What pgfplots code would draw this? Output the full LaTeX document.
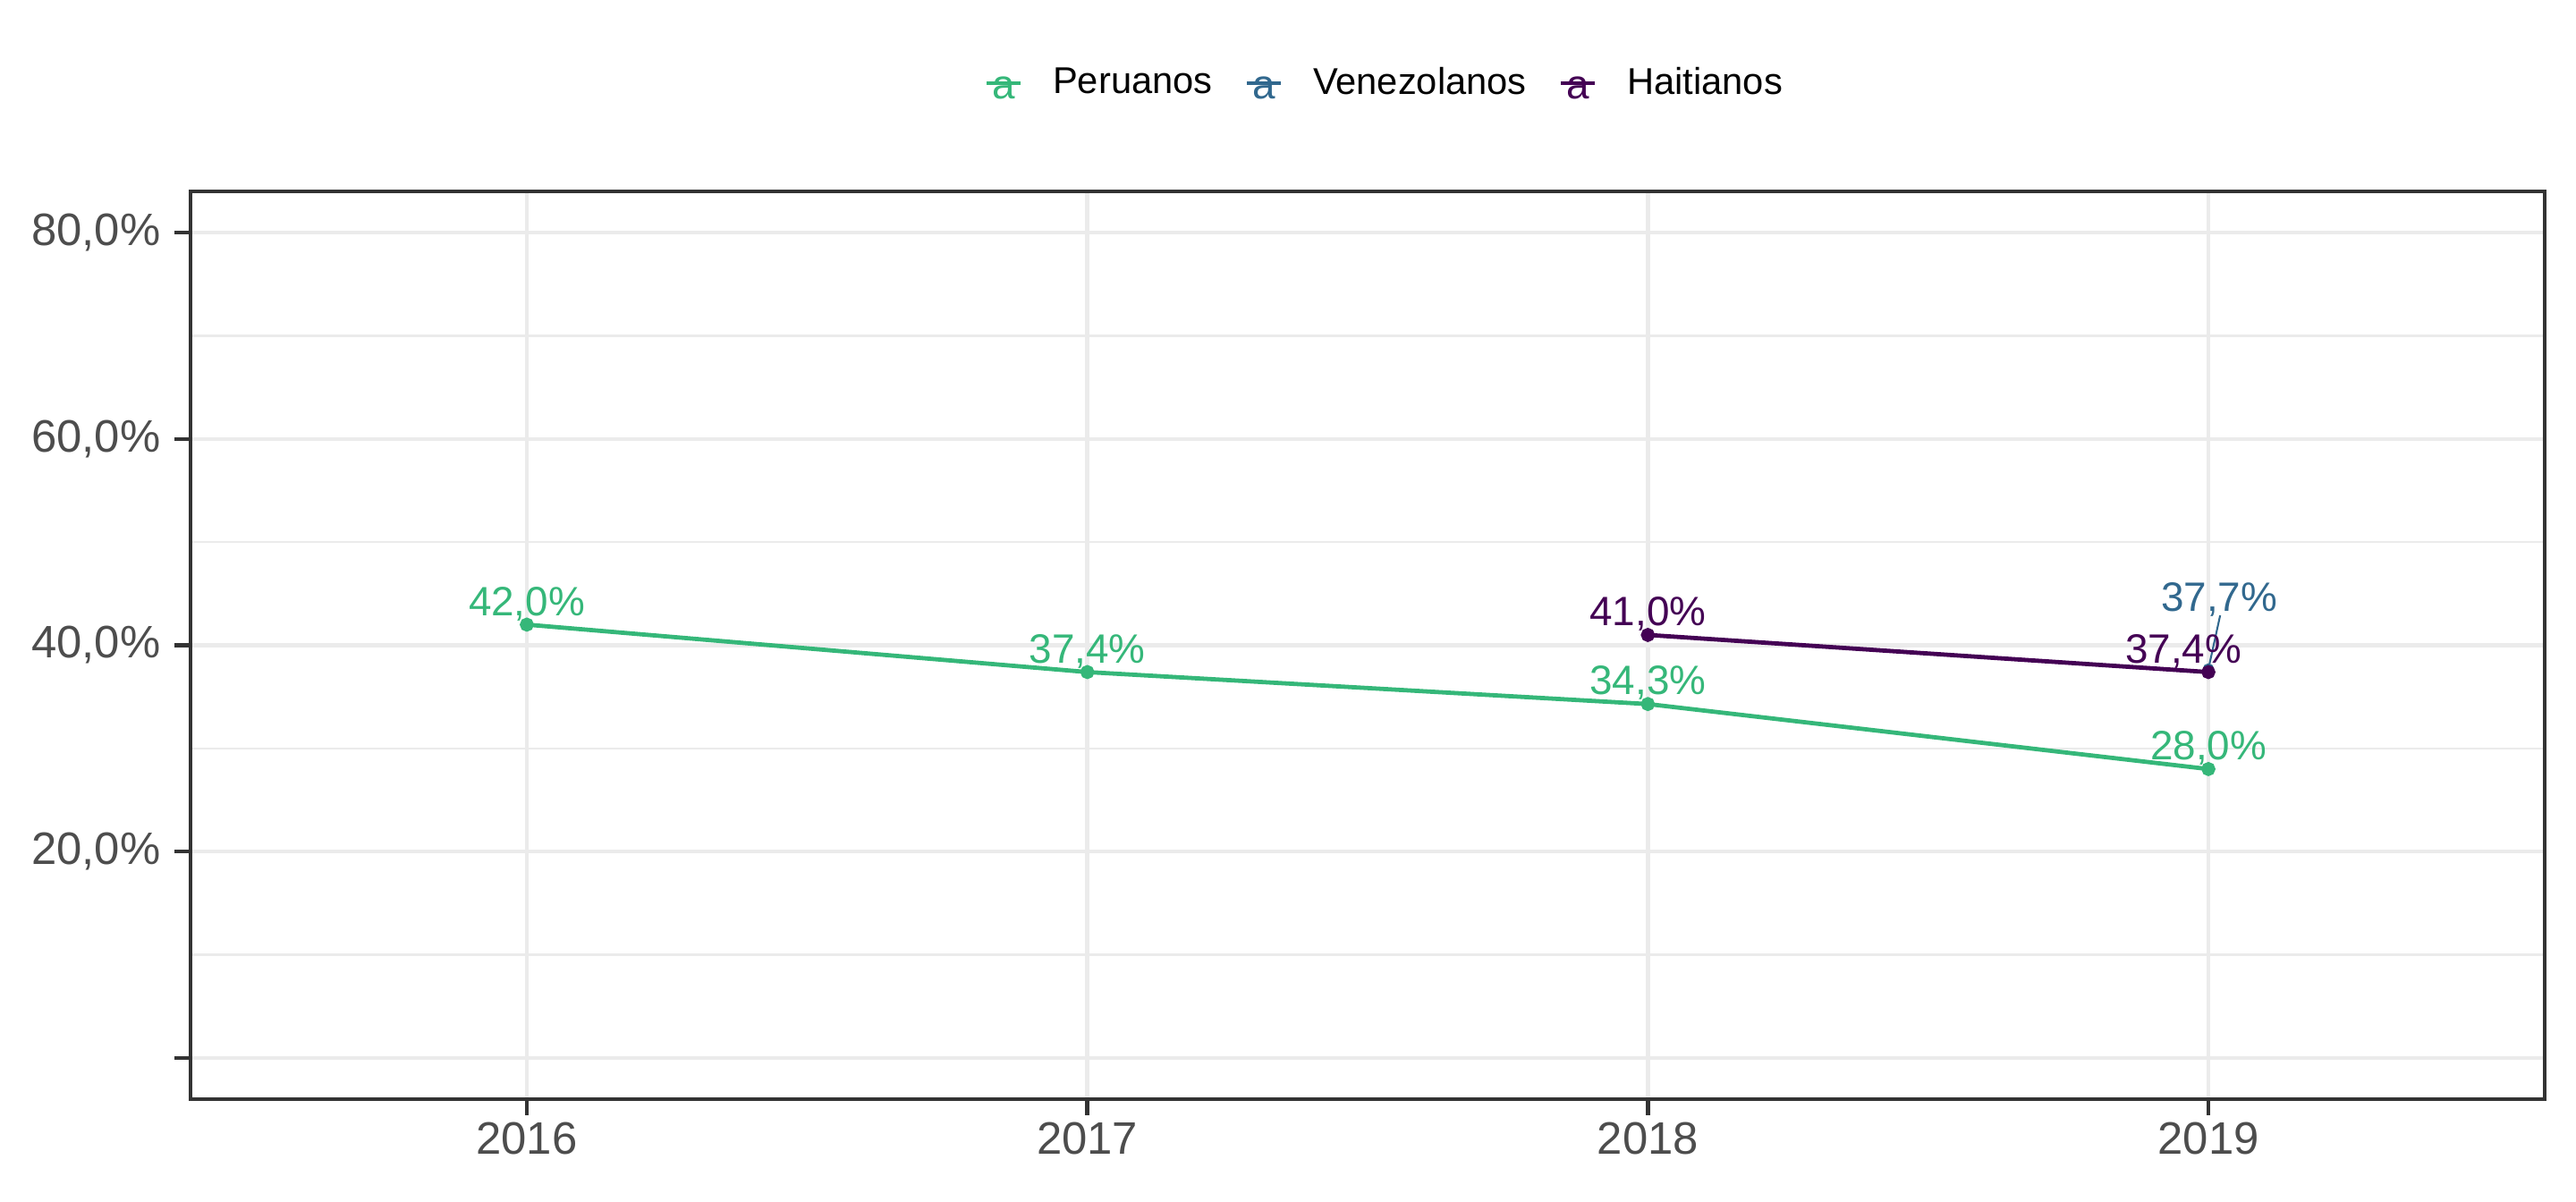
\documentclass[border=0pt]{standalone}
\usepackage{pgfplots}
\pgfplotsset{compat=1.18}
\usepackage{pgfplotstable}
\usepackage{fontspec}
\setmainfont{Liberation Sans}

\definecolor{cPer}{HTML}{35B779}
\definecolor{cVen}{HTML}{31688E}
\definecolor{cHai}{HTML}{440154}
\definecolor{gridc}{HTML}{EBEBEB}
\definecolor{framec}{HTML}{333333}
\definecolor{tickc}{HTML}{4D4D4D}

% year, share, label offsets (pt)
\pgfplotstableread{
x y dx dy
2016 42.0 0 2.5
2017 37.4 0 2.5
2018 34.3 0 2.5
2019 28.0 0 2.5
}\peruanos
\pgfplotstableread{
x y dx dy
2019 37.7 2.9 15.5
}\venezolanos
\pgfplotstableread{
x y dx dy
2018 41.0 0 2.5
2019 37.4 -6.7 2.5
}\haitianos

% legend key: a short line crossed by the letter "a"
\newcommand{\keyimg}[1]{%
  \draw[#1, line width=1.0pt] (0pt,0pt) -- (9.2pt,0pt);
  \node[text=#1, anchor=base, inner sep=0pt, font=\fontsize{11}{13}\selectfont] at (4.6pt,-4.0pt) {a};}

\pgfplotsset{
  valuelabels/.style={
    nodes near coords={\pgfmathprintnumber[fixed,fixed zerofill,precision=1,use comma,assume math mode=true]{\pgfplotspointmeta}\%},
    point meta=y,
    visualization depends on={\thisrow{dx} \as \labeldx},
    visualization depends on={\thisrow{dy} \as \labeldy},
    every node near coord/.append style={anchor=base, inner sep=0pt,
      font=\fontsize{11}{13}\selectfont, xshift=\labeldx pt, yshift=\labeldy pt, text=#1},
  },
}

\begin{document}
\begin{tikzpicture}
\begin{axis}[
  name=ax,
  scale only axis,
  width=631.68pt, height=243.6pt,
  xmin=2015.4, xmax=2019.6,
  ymin=-4, ymax=84,
  xtick={2016,2017,2018,2019},
  xticklabels={2016,2017,2018,2019},
  ytick={0,20,40,60,80},
  yticklabels={,{20,0\%},{40,0\%},{60,0\%},{80,0\%}},
  minor ytick={10,30,50,70},
  grid=both,
  major grid style={draw=gridc, line width=1.1pt},
  minor grid style={draw=gridc, line width=0.55pt},
  minor tick length=0pt,
  major tick length=4.3pt,
  tick align=outside,
  xtick pos=bottom, ytick pos=left,
  tick style={draw=framec, line width=1.1pt},
  axis line style={draw=framec, line width=1.05pt},
  ticklabel style={font=\fontsize{12.2}{14}\selectfont, text=tickc},
  yticklabel style={anchor=east, inner sep=0pt, xshift=-3.6pt},
  xticklabel style={anchor=north, inner sep=0pt, yshift=-1.7pt},
  legend columns=3,
  legend style={at={(0.5068,1.1165)}, anchor=center, draw=none, fill=none,
    font=\fontsize{10}{12}\selectfont, inner sep=0pt,
    nodes={inner sep=0pt},
    /tikz/every odd column/.append style={column sep=8.1pt},
    /tikz/every even column/.append style={column sep=8.7pt}},
  legend cell align=left,
]
\addplot[cPer, line width=1.15pt, mark=*, mark size=1.3pt, valuelabels=cPer,
  legend image code/.code={\keyimg{cPer}}]
  table[x=x, y=y] {\peruanos};
\addlegendentry{Peruanos}

% leader segment from the point to its label
\addplot[cVen, line width=0.5pt, forget plot] coordinates {(2019,37.7) (2019.021,42.9)};

\addplot[cVen, only marks, mark=*, mark size=1.3pt, valuelabels=cVen,
  legend image code/.code={\keyimg{cVen}}]
  table[x=x, y=y] {\venezolanos};
\addlegendentry{Venezolanos}

\addplot[cHai, line width=1.15pt, mark=*, mark size=1.3pt, valuelabels=cHai,
  legend image code/.code={\keyimg{cHai}}]
  table[x=x, y=y] {\haitianos};
\addlegendentry{Haitianos}
\end{axis}
\path[use as bounding box] ([shift={(-51.12pt,-27.6pt)}]ax.south west)
  rectangle ([shift={(8.4pt,51.36pt)}]ax.north east);
\end{tikzpicture}
\end{document}
